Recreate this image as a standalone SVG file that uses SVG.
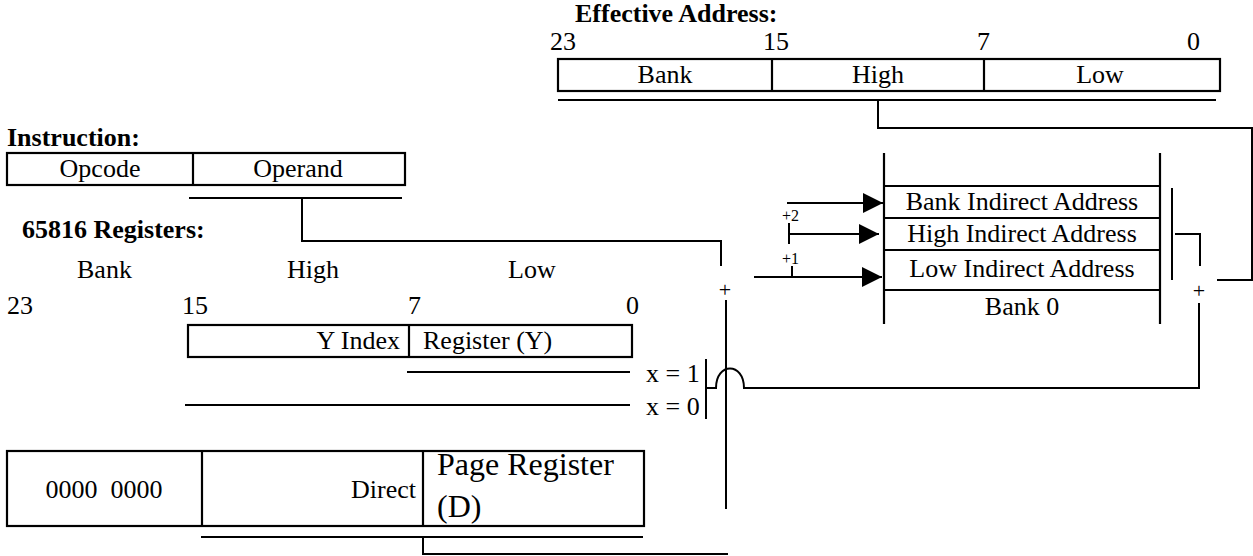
<svg xmlns="http://www.w3.org/2000/svg" width="1253" height="556" viewBox="0 0 1253 556">
<style>
text{font-family:"Liberation Serif","Times New Roman",serif;font-size:26px;fill:#000}
.b{font-weight:bold}
.m{text-anchor:middle}
.e{text-anchor:end}
.sm{font-size:16px}
.pl{font-size:22px;text-anchor:middle}
.big{font-size:32px}
.box{fill:none;stroke:#000;stroke-width:2.2}
.ln{fill:none;stroke:#000;stroke-width:2}
</style>
<defs>
<marker id="ah" markerUnits="userSpaceOnUse" markerWidth="21" markerHeight="21" refX="20" refY="10" orient="auto">
<path d="M0,0 L20,10 L0,20 z" fill="#000"/>
</marker>
</defs>
<rect width="1253" height="556" fill="#fff"/>

<g id="effective-address">
<text class="b" x="575" y="22">Effective Address:</text>
<text x="550" y="50">23</text>
<text x="763" y="50">15</text>
<text x="977" y="50">7</text>
<text x="1187" y="50">0</text>
<rect class="box" x="558" y="59" width="662" height="32"/>
<path class="box" d="M772,59 V91 M984,59 V91"/>
<text class="m" x="665" y="83">Bank</text>
<text class="m" x="878" y="83">High</text>
<text class="m" x="1100" y="83">Low</text>
</g>

<g id="instruction">
<text class="b" x="7" y="146">Instruction:</text>
<rect class="box" x="7" y="153" width="398" height="32"/>
<path class="box" d="M193,153 V185"/>
<text class="m" x="100" y="177">Opcode</text>
<text class="m" x="298" y="177">Operand</text>
</g>

<g id="registers-header">
<text class="b" x="22" y="238">65816 Registers:</text>
<text x="77" y="278">Bank</text>
<text x="287" y="278">High</text>
<text x="508" y="278">Low</text>
<text x="7" y="314">23</text>
<text x="182" y="314">15</text>
<text x="408" y="314">7</text>
<text x="626" y="314">0</text>
</g>

<g id="y-register">
<rect class="box" x="188" y="325" width="444" height="32"/>
<path class="box" d="M409,325 V357"/>
<text class="e" x="400" y="349">Y Index</text>
<text x="423" y="349">Register (Y)</text>
</g>

<g id="x-select">
<text x="646" y="382">x = 1</text>
<text x="646" y="415">x = 0</text>
<path class="ln" d="M706,359 V419"/>
</g>

<g id="d-register">
<rect class="box" x="7" y="451" width="637" height="75"/>
<path class="box" d="M202,451 V526 M423,451 V526"/>
<text class="m" x="104" y="498" xml:space="preserve">0000  0000</text>
<text class="e" x="416" y="498">Direct</text>
<text class="big" x="437" y="475">Page Register</text>
<text class="big" x="437" y="517">(D)</text>
</g>

<g id="bank0-memory">
<path class="box" d="M884,153 V324 M1160,153 V324 M884,186 H1160 M884,218 H1160 M884,250 H1160 M884,290 H1160"/>
<text class="m" x="1022" y="210">Bank Indirect Address</text>
<text class="m" x="1022" y="242">High Indirect Address</text>
<text class="m" x="1022" y="277">Low Indirect Address</text>
<text class="m" x="1022" y="315">Bank 0</text>
</g>

<g id="adder-left">
<text class="pl" x="725" y="297">+</text>
</g>

<g id="adder-right">
<text class="pl" x="1199" y="298">+</text>
<path class="ln" d="M1172,188 V280"/>
</g>

<g id="connectors">
<path class="ln" d="M558,100 H1216"/>
<path class="ln" d="M878,100 V128 H1252 V280 H1217"/>
<path class="ln" d="M189,198 H402"/>
<path class="ln" d="M302,198 V241 H721 V266"/>
<path class="ln" d="M407,372 H630"/>
<path class="ln" d="M185,405 H630"/>
<path class="ln" d="M201,537 H643"/>
<path class="ln" d="M423,537 V554 H728"/>
<path class="ln" d="M726,300 V509"/>
<path class="ln" d="M1175,234 H1200 V266"/>
<path class="ln" d="M1199,303 V388 H744 C744,362 716,362 716,388 H706"/>
<path class="ln" d="M787,203 H883" marker-end="url(#ah)"/>
<path class="ln" d="M789,234 H879" marker-end="url(#ah)"/>
<path class="ln" d="M754,277 H882" marker-end="url(#ah)"/>
<path class="ln" d="M789,223 V244 M792,266 V277"/>
<text class="sm" x="782" y="221">+2</text>
<text class="sm" x="782" y="264">+1</text>
</g>
</svg>
